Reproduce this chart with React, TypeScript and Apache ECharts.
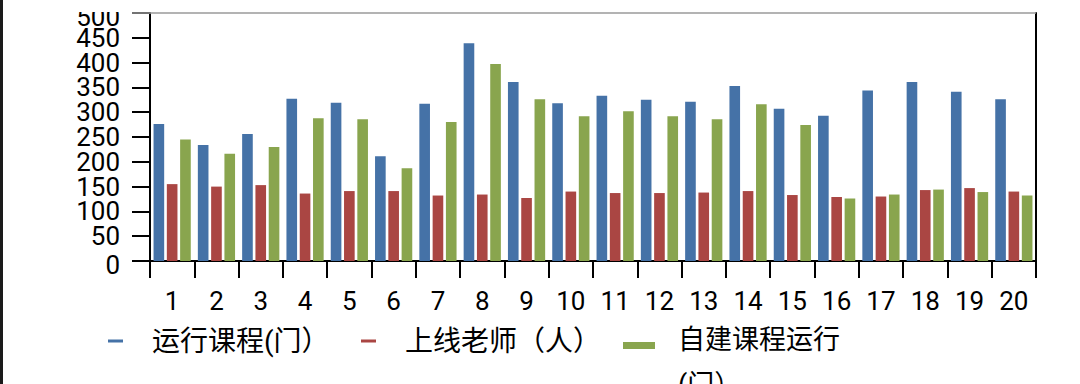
import React, { useEffect, useRef } from 'react';
import * as echarts from 'echarts';

const categories = ['1', '2', '3', '4', '5', '6', '7', '8', '9', '10', '11', '12', '13', '14', '15', '16', '17', '18', '19', '20'];
const seriesNames = ['运行课程(门）', '上线老师（人）', '自建课程运行(门）'];
const courses = [276, 234, 256, 327, 319, 211, 317, 439, 361, 318, 333, 325, 321, 353, 307, 293, 344, 361, 341, 326];
const teachers = [155, 150, 153, 136, 141, 141, 132, 134, 127, 140, 137, 137, 138, 141, 133, 129, 130, 143, 147, 140];
const selfBuilt = [245, 216, 230, 288, 286, 187, 280, 397, 326, 292, 302, 292, 286, 316, 274, 126, 134, 144, 139, 132];
const colors = ['#4572A7', '#AA4643', '#89A54E'];
const yMin = 0;
const yMax = 500;
const yStep = 50;

const FONT = 'Roboto, "Noto Sans CJK SC", sans-serif';

const isEnd = (v: number) => v === yMin || v === yMax;

export default function App() {
  const ref = useRef<HTMLDivElement>(null);
  useEffect(() => {
    const chart = echarts.init(ref.current!, null, { renderer: 'svg' });
    const values = [courses, teachers, selfBuilt];
    const labelBase = { margin: 30, fontSize: 26, color: '#000', fontFamily: FONT, hideOverlap: false };
    chart.setOption({
      animation: false,
      backgroundColor: '#fff',
      grid: { left: 150, right: 44, top: 13, bottom: 123, containLabel: false, outerBoundsMode: 'none' },
      xAxis: {
        type: 'category',
        data: categories,
        boundaryGap: true,
        axisLine: { show: true, lineStyle: { color: '#000', width: 2 } },
        axisTick: { show: true, interval: 0, length: 17, lineStyle: { color: '#000', width: 2 } },
        axisLabel: { interval: 0, margin: 27, fontSize: 26, color: '#000', fontFamily: FONT },
        splitLine: { show: false },
      },
      yAxis: [
        {
          type: 'value',
          min: yMin,
          max: yMax,
          interval: yStep,
          axisLine: { show: true, lineStyle: { color: '#000', width: 2 } },
          axisTick: { show: true, length: 18, lineStyle: { color: '#000', width: 2 } },
          axisLabel: { ...labelBase, formatter: (v: number) => (isEnd(v) ? '' : `${v}`) },
          splitLine: { show: false },
        },
        {
          type: 'value',
          position: 'right',
          min: yMin,
          max: yMax,
          interval: yStep,
          axisLine: { show: true, lineStyle: { color: '#000', width: 2 } },
          axisTick: { show: false },
          axisLabel: { show: false },
          splitLine: { show: false },
        },
        {
          type: 'value',
          position: 'left',
          min: yMin,
          max: yMax,
          interval: yStep,
          axisLine: { show: false },
          axisTick: { show: false },
          axisLabel: {
            ...labelBase,
            showMinLabel: true,
            showMaxLabel: true,
            formatter: (v: number) => (isEnd(v) ? `{s|${v}}` : ''),
            rich: { s: { fontSize: 26, color: '#000', fontFamily: FONT, padding: [7, 0, 0, 0] } },
          },
          splitLine: { show: false },
        },
      ],
      legend: [
        {
          data: [seriesNames[0]],
          left: 108,
          top: 327,
          padding: 0,
          icon: 'rect',
          itemWidth: 15,
          itemHeight: 3,
          textStyle: { fontSize: 28, color: '#000', fontFamily: FONT, padding: [0, 0, 0, 24] },
        },
        {
          data: [seriesNames[1]],
          left: 361,
          top: 327,
          padding: 0,
          icon: 'rect',
          itemWidth: 15,
          itemHeight: 3,
          textStyle: { fontSize: 28, color: '#000', fontFamily: FONT, padding: [0, 0, 0, 24] },
        },
        {
          data: [seriesNames[2]],
          left: 623,
          top: 317,
          padding: 0,
          icon: 'path://M0,40M0,0h32v7h-32z',
          itemWidth: 32,
          itemHeight: 40,
          formatter: () => '自建课程运行\n(门）',
          textStyle: { fontSize: 27, color: '#000', fontFamily: FONT, lineHeight: 45, padding: [0, 0, 0, 18] },
        },
      ],
      graphic: [
        { type: 'rect', z: 99, shape: { x: 3, y: 0, width: 1077, height: 12 }, style: { fill: '#fff' } },
        { type: 'line', z: 100, shape: { x1: 132, y1: 13, x2: 1036, y2: 13 }, style: { stroke: '#9a9a9a', lineWidth: 1.5 } },
        { type: 'rect', z: 100, shape: { x: 0, y: 0, width: 3, height: 384 }, style: { fill: '#1a1a1a' } },
      ],
      series: values.map((d, i) => ({
        type: 'bar',
        name: seriesNames[i],
        data: d,
        yAxisIndex: 0,
        barGap: '25%',
        barCategoryGap: '16%',
        itemStyle: { color: colors[i] },
      })),
    });
    return () => chart.dispose();
  }, []);
  return (
    <div
      ref={ref}
      style={{ position: 'fixed', left: 0, top: 0, width: 1080, height: 384, background: '#fff' }}
    />
  );
}
